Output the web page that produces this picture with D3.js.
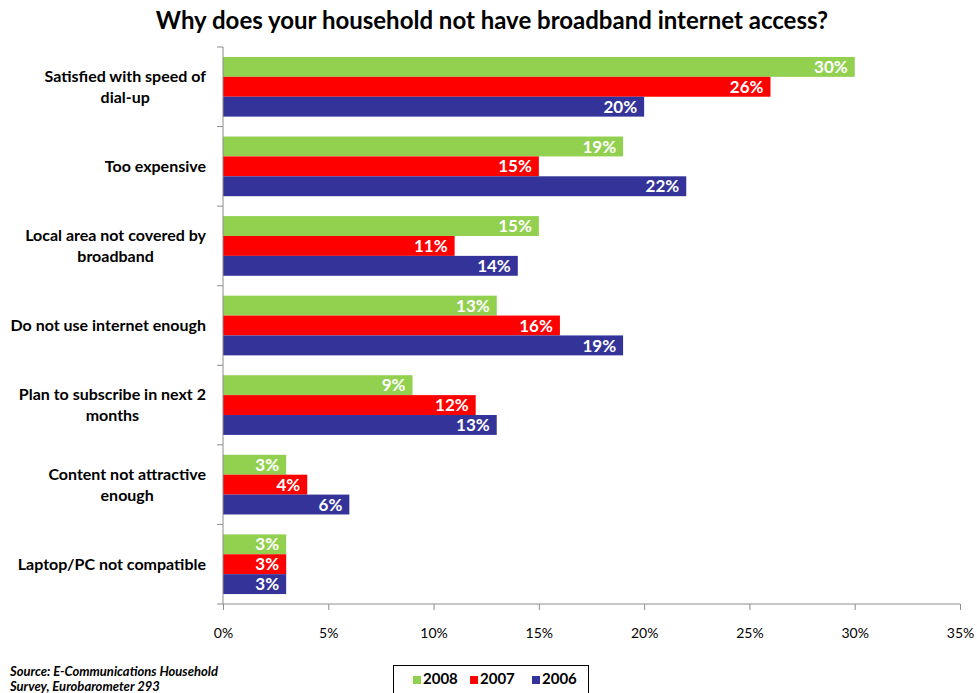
<!DOCTYPE html>
<html>
<head>
<meta charset="utf-8">
<script src="https://cdn.jsdelivr.net/npm/d3@7"></script>
<style>
  html, body { margin: 0; padding: 0; background: #fff; }
  svg { display: block; font-family: Lato, "Open Sans", sans-serif; }
</style>
</head>
<body>
<svg id="chart" width="977" height="693"></svg>
<script>
// Reasons for not having broadband, share of households (%)
const categories = [
  "Satisfied with speed of dial-up",
  "Too expensive",
  "Local area not covered by broadband",
  "Do not use internet enough",
  "Plan to subscribe in next 2 months",
  "Content not attractive enough",
  "Laptop/PC not compatible"
];
const categoryLines = [
  ["Satisfied with speed of", "dial-up"],
  ["Too expensive"],
  ["Local area not covered by", "broadband"],
  ["Do not use internet enough"],
  ["Plan to subscribe in next 2", "months"],
  ["Content not attractive", "enough"],
  ["Laptop/PC not compatible"]
];
const seriesNames = ["2008", "2007", "2006"];
const values2008 = [30, 19, 15, 13, 9, 3, 3];
const values2007 = [26, 15, 11, 16, 12, 4, 3];
const values2006 = [20, 22, 14, 19, 13, 6, 3];
const seriesColors = ["#92D050", "#FF0000", "#333399"];
const xTicks = [0, 5, 10, 15, 20, 25, 30, 35];

const series = [values2008, values2007, values2006];

const svg = d3.select("#chart");
const plot = { left: 223, right: 960, top: 47, bottom: 604 };
const axisColor = "#8c8c8c";

const x = d3.scaleLinear().domain([0, 35]).range([plot.left, plot.right]);
const y = d3.scaleBand().domain(categories).range([plot.top, plot.bottom])
  .paddingInner(0.25).paddingOuter(0.125);
const ySub = d3.scaleBand().domain(seriesNames).range([0, y.bandwidth()]);

// Title
svg.append("text")
  .attr("x", 492).attr("y", 29)
  .attr("text-anchor", "middle")
  .attr("font-size", 24).attr("font-weight", "bold").attr("fill", "#000")
  .text("Why does your household not have broadband internet access?");

// Bars with value labels inside their ends
const groups = svg.append("g").selectAll("g")
  .data(categories)
  .join("g")
  .attr("transform", d => `translate(0,${y(d)})`);

groups.each(function (cat, i) {
  const g = d3.select(this);
  seriesNames.forEach((s, j) => {
    const v = series[j][i];
    g.append("rect")
      .attr("x", x(0))
      .attr("y", ySub(s))
      .attr("width", x(v) - x(0))
      .attr("height", ySub.bandwidth())
      .attr("fill", seriesColors[j]);
    g.append("text")
      .attr("x", x(v) - 7)
      .attr("y", ySub(s) + ySub.bandwidth() / 2)
      .attr("dy", "0.36em")
      .attr("text-anchor", "end")
      .attr("font-size", 17).attr("font-weight", "bold").attr("fill", "#fff")
      .text(v + "%");
  });
});

// Y axis: line with ticks at band boundaries
const yAxis = svg.append("g");
yAxis.append("line")
  .attr("x1", x(0)).attr("x2", x(0))
  .attr("y1", plot.top).attr("y2", plot.bottom)
  .attr("stroke", axisColor).attr("stroke-width", 1);
const boundaries = categories.map(c => y(c) - y.step() * y.paddingInner() / 2);
boundaries.push(plot.bottom);
yAxis.selectAll("line.tick").data(boundaries).join("line")
  .attr("class", "tick")
  .attr("x1", x(0) - 6).attr("x2", x(0))
  .attr("y1", d => d).attr("y2", d => d)
  .attr("stroke", axisColor);

// Category labels: block right-aligned, each line centred in the block
const labelRight = 206;
categoryLines.forEach((lines, i) => {
  const cy = y(categories[i]) + y.bandwidth() / 2;
  const lh = 21;
  const t = svg.append("text")
    .attr("font-size", 16).attr("font-weight", "bold").attr("fill", "#000");
  const spans = lines.map((ln, k) => t.append("tspan")
    .attr("y", cy + (k - (lines.length - 1) / 2) * lh)
    .attr("dy", "0.36em")
    .text(ln));
  const widths = spans.map(s => s.node().getComputedTextLength());
  const centre = labelRight - d3.max(widths) / 2;
  spans.forEach(s => s.attr("x", centre).attr("text-anchor", "middle"));
});

// X axis
const xAxis = d3.axisBottom(x)
  .tickValues(xTicks)
  .tickFormat(d => d + "%")
  .tickSize(6)
  .tickPadding(18);
const gx = svg.append("g")
  .attr("transform", `translate(0,${plot.bottom})`)
  .call(xAxis);
gx.select(".domain").attr("stroke", axisColor).attr("d", `M${plot.left},0H${plot.right}`);
gx.selectAll(".tick line").attr("stroke", axisColor);
gx.selectAll(".tick text")
  .attr("font-family", "Lato, 'Open Sans', sans-serif")
  .attr("font-size", 14).attr("fill", "#000");

// Source note
const src = svg.append("text")
  .attr("font-size", 13).attr("font-weight", "bold").attr("font-style", "italic")
  .attr("fill", "#000");
src.append("tspan").attr("x", 10).attr("y", 676).text("Source: E-Communications Household");
src.append("tspan").attr("x", 10).attr("y", 691).text("Survey, Eurobarometer 293");

// Legend
const legend = svg.append("g");
legend.append("rect")
  .attr("x", 393.5).attr("y", 665.5).attr("width", 195).attr("height", 40)
  .attr("fill", "#fff").attr("stroke", "#000").attr("stroke-width", 1);
const legendX = [413, 470, 532];
seriesNames.forEach((s, j) => {
  legend.append("rect")
    .attr("x", legendX[j]).attr("y", 676)
    .attr("width", 8).attr("height", 8)
    .attr("fill", seriesColors[j]);
  legend.append("text")
    .attr("x", legendX[j] + 10).attr("y", 684)
    .attr("font-size", 15).attr("font-weight", "bold").attr("fill", "#000")
    .text(s);
});
</script>
</body>
</html>
